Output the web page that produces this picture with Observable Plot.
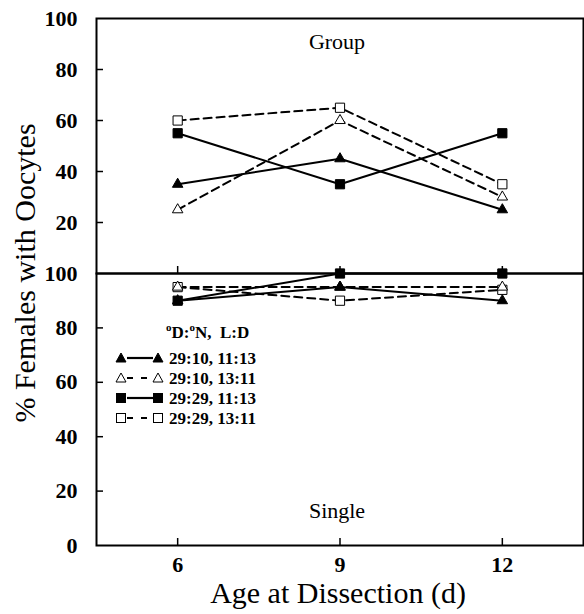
<!DOCTYPE html>
<html><head><meta charset="utf-8">
<script src="https://cdn.jsdelivr.net/npm/d3@7"></script>
<script src="https://cdn.jsdelivr.net/npm/@observablehq/plot@0.6"></script>
<style>
body{margin:0;background:#fff;}
#wrap{position:relative;width:584px;height:614px;font-family:"Liberation Serif",serif;}
#wrap > *{position:absolute;}
#ylab{left:25px;top:273px;transform:translate(-50%,-50%) rotate(-90deg);font-size:30px;white-space:nowrap;font-family:"Liberation Serif",serif;line-height:1.15;}
</style></head><body><div id="wrap"></div>
<script>
// ---- data ----
const ages = [6, 9, 12];
const seriesNames = ["29:10, 11:13", "29:10, 13:11", "29:29, 11:13", "29:29, 13:11"];
const group_29_10_11_13 = [35, 45, 25];
const group_29_10_13_11 = [25, 60, 30];
const group_29_29_11_13 = [55, 35, 55];
const group_29_29_13_11 = [60, 65, 35];
const single_29_10_11_13 = [90, 95, 90];
const single_29_10_13_11 = [95, 95, 95];
const single_29_29_11_13 = [90, 100, 100];
const single_29_29_13_11 = [95, 90, 94];
const yTicks = [0, 20, 40, 60, 80, 100];

// ---- styles ----
const styles = {
  "29:10, 11:13": {symbol: "triangle", fill: "black", dash: null},
  "29:10, 13:11": {symbol: "triangle", fill: "white", dash: "8,5"},
  "29:29, 11:13": {symbol: "square", fill: "black", dash: null},
  "29:29, 13:11": {symbol: "square", fill: "white", dash: "8,5"}
};
const drawOrder = ["29:29, 13:11", "29:10, 13:11", "29:10, 11:13", "29:29, 11:13"];

function rows(arrs) {
  const out = [];
  seriesNames.forEach((s, i) => arrs[i].forEach((v, j) => out.push({series: s, age: ages[j], value: v})));
  return out;
}
const groupData = rows([group_29_10_11_13, group_29_10_13_11, group_29_29_11_13, group_29_29_13_11]);
const singleData = rows([single_29_10_11_13, single_29_10_13_11, single_29_29_11_13, single_29_29_13_11]);

const font = '"Liberation Serif", serif';

function seriesMarks(data) {
  const m = [];
  for (const s of seriesNames) {
    const st = styles[s];
    m.push(Plot.line(data.filter(d => d.series === s), {x: "age", y: "value", stroke: "black", strokeWidth: 2, strokeDasharray: st.dash}));
  }
  for (const s of drawOrder) {
    const st = styles[s];
    m.push(Plot.dot(data.filter(d => d.series === s), {x: "age", y: "value", symbol: () => st.symbol, r: st.symbol === "square" ? 5.2 : 3.9, fill: st.fill, stroke: "black", strokeWidth: 1}));
  }
  return m;
}

function axesY(ticks) {
  return [
    Plot.axisY({ticks: [20, 40, 60, 80], tickSize: -7, tickFormat: () => "", strokeWidth: 1.5, label: null}),
    Plot.axisY({ticks, tickSize: 0, tickPadding: 19, fontSize: 22, fontWeight: "bold", fontFamily: font, fill: "black", label: null})
  ];
}

const wrap = document.getElementById("wrap");

const topChart = Plot.plot({
  width: 584, height: 276,
  marginLeft: 96, marginRight: 1, marginTop: 18, marginBottom: 3,
  style: {fontFamily: font, background: "transparent", overflow: "visible", color: "black"},
  x: {domain: [4.5, 13.5]},
  y: {domain: [0, 100]},
  symbol: {type: "identity"},
  marks: [
    Plot.frame({stroke: "black", strokeWidth: 2}),
    ...axesY(yTicks.filter(t => t > 0)),
    Plot.axisX({ticks: ages, tickSize: -7, tickFormat: () => "", strokeWidth: 1.5, label: null}),
    ...seriesMarks(groupData),
    Plot.text(["Group"], {frameAnchor: "top", lineAnchor: "middle", dx: -3, dy: 23, fontSize: 22, fontFamily: font, fill: "black"})
  ]
});
topChart.style.left = "0px"; topChart.style.top = "0px";
wrap.appendChild(topChart);

const bottomChart = Plot.plot({
  width: 584, height: 364,
  marginLeft: 96, marginRight: 1, marginTop: 23, marginBottom: 69,
  style: {fontFamily: font, background: "transparent", overflow: "visible", color: "black"},
  x: {domain: [4.5, 13.5]},
  y: {domain: [0, 100]},
  symbol: {type: "identity"},
  marks: [
    Plot.frame({stroke: "black", strokeWidth: 2}),
    ...axesY(yTicks),
    Plot.axisX({ticks: ages, tickSize: -7, tickFormat: () => "", strokeWidth: 1.5, label: null}),
    Plot.axisX({ticks: ages, tickSize: 0, tickPadding: 11, fontSize: 22, fontWeight: "bold", fontFamily: font, fill: "black", label: null}),
    ...seriesMarks(singleData),
    Plot.text(["Single"], {frameAnchor: "bottom", lineAnchor: "middle", dx: -3, dy: -35, fontSize: 22, fontFamily: font, fill: "black"}),
    Plot.text(["Age at Dissection (d)"], {frameAnchor: "bottom", lineAnchor: "middle", dx: -2, dy: 48, fontSize: 30, fontFamily: font, fill: "black"})
  ]
});
bottomChart.style.left = "0px"; bottomChart.style.top = "250px";
wrap.appendChild(bottomChart);

// y label
const yl = document.createElement("div");
yl.id = "ylab";
yl.textContent = "% Females with Oocytes";
wrap.appendChild(yl);

// legend
const lg = d3.create("svg").attr("width", 200).attr("height", 120)
  .style("left", "108px").style("top", "318px").style("overflow", "visible")
  .style("font-family", font).style("font-weight", "bold");
const ttl = lg.append("text").attr("x", 58).attr("y", 20).attr("font-size", 17).style("white-space", "pre");
ttl.append("tspan").attr("font-size", 11).attr("dy", -7).text("o");
ttl.append("tspan").attr("dy", 7).text("D:");
ttl.append("tspan").attr("font-size", 11).attr("dy", -7).text("o");
ttl.append("tspan").attr("dy", 7).text("N,  L:D");
const sym = (g, st, cx, cy) => {
  if (st.symbol === "square") g.append("rect").attr("x", cx - 4.5).attr("y", cy - 4.5).attr("width", 9).attr("height", 9).attr("fill", st.fill).attr("stroke", "black").attr("stroke-width", 1);
  else g.append("path").attr("d", `M${cx},${cy - 5}L${cx + 5},${cy + 4}L${cx - 5},${cy + 4}Z`).attr("fill", st.fill).attr("stroke", "black").attr("stroke-width", 1);
};
seriesNames.forEach((s, i) => {
  const st = styles[s];
  const y = 40 + i * 20;
  const g = lg.append("g");
  g.append("line").attr("x1", 19).attr("x2", 45).attr("y1", y).attr("y2", y).attr("stroke", "black").attr("stroke-width", 2.2).attr("stroke-dasharray", st.dash ? "6,8" : null);
  sym(g, st, 13, y);
  sym(g, st, 50, y);
  g.append("text").attr("x", 61).attr("y", y + 6).attr("font-size", 17).text(s);
});
wrap.appendChild(lg.node());
</script></body></html>
